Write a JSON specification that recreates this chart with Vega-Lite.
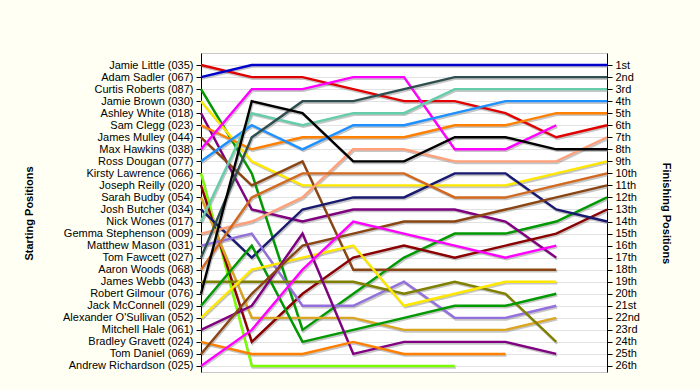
{
"$schema":"https://vega.github.io/schema/vega-lite/v6.json",
"width":406,"height":319,
"autosize":{"type":"none"},
"padding":{"left":201,"top":53,"right":93,"bottom":18},
"background":"#fffff3",
"config":{"view":{"fill":"white","stroke":"#c8c8c8"},"font":"Liberation Sans","axis":{"labelColor":"black","titleColor":"black","labelFont":"Liberation Sans","titleFont":"Liberation Sans"}},
"data":{"values":[
{"start":1,"lap":0,"pos":1},{"start":1,"lap":1,"pos":2},{"start":1,"lap":2,"pos":2},{"start":1,"lap":3,"pos":3},{"start":1,"lap":4,"pos":4},{"start":1,"lap":5,"pos":4},{"start":1,"lap":6,"pos":5},{"start":1,"lap":7,"pos":7},{"start":1,"lap":8,"pos":6},
{"start":2,"lap":0,"pos":2},{"start":2,"lap":1,"pos":1},{"start":2,"lap":2,"pos":1},{"start":2,"lap":3,"pos":1},{"start":2,"lap":4,"pos":1},{"start":2,"lap":5,"pos":1},{"start":2,"lap":6,"pos":1},{"start":2,"lap":7,"pos":1},{"start":2,"lap":8,"pos":1},
{"start":3,"lap":0,"pos":3},{"start":3,"lap":1,"pos":10},{"start":3,"lap":2,"pos":23},{"start":3,"lap":3,"pos":20},{"start":3,"lap":4,"pos":17},{"start":3,"lap":5,"pos":15},{"start":3,"lap":6,"pos":15},{"start":3,"lap":7,"pos":14},{"start":3,"lap":8,"pos":12},
{"start":4,"lap":0,"pos":4},{"start":4,"lap":1,"pos":9},{"start":4,"lap":2,"pos":11},{"start":4,"lap":3,"pos":11},{"start":4,"lap":4,"pos":11},{"start":4,"lap":5,"pos":11},{"start":4,"lap":6,"pos":11},{"start":4,"lap":7,"pos":10},{"start":4,"lap":8,"pos":9},
{"start":5,"lap":0,"pos":5},{"start":5,"lap":1,"pos":13},{"start":5,"lap":2,"pos":14},{"start":5,"lap":3,"pos":13},{"start":5,"lap":4,"pos":13},{"start":5,"lap":5,"pos":13},{"start":5,"lap":6,"pos":14},{"start":5,"lap":7,"pos":17},
{"start":6,"lap":0,"pos":6},{"start":6,"lap":1,"pos":8},{"start":6,"lap":2,"pos":7},{"start":6,"lap":3,"pos":7},{"start":6,"lap":4,"pos":7},{"start":6,"lap":5,"pos":6},{"start":6,"lap":6,"pos":6},{"start":6,"lap":7,"pos":5},{"start":6,"lap":8,"pos":5},
{"start":7,"lap":0,"pos":7},{"start":7,"lap":1,"pos":11},{"start":7,"lap":2,"pos":9},{"start":7,"lap":3,"pos":18},{"start":7,"lap":4,"pos":18},{"start":7,"lap":5,"pos":18},{"start":7,"lap":6,"pos":18},{"start":7,"lap":7,"pos":18},
{"start":8,"lap":0,"pos":8},{"start":8,"lap":1,"pos":3},{"start":8,"lap":2,"pos":3},{"start":8,"lap":3,"pos":2},{"start":8,"lap":4,"pos":2},{"start":8,"lap":5,"pos":8},{"start":8,"lap":6,"pos":8},{"start":8,"lap":7,"pos":6},
{"start":9,"lap":0,"pos":9},{"start":9,"lap":1,"pos":6},{"start":9,"lap":2,"pos":8},{"start":9,"lap":3,"pos":6},{"start":9,"lap":4,"pos":6},{"start":9,"lap":5,"pos":5},{"start":9,"lap":6,"pos":4},{"start":9,"lap":7,"pos":4},{"start":9,"lap":8,"pos":4},
{"start":10,"lap":0,"pos":10},{"start":10,"lap":1,"pos":26},{"start":10,"lap":2,"pos":26},{"start":10,"lap":3,"pos":26},{"start":10,"lap":4,"pos":26},{"start":10,"lap":5,"pos":26},
{"start":11,"lap":0,"pos":11},{"start":11,"lap":1,"pos":24},{"start":11,"lap":2,"pos":20},{"start":11,"lap":3,"pos":17},{"start":11,"lap":4,"pos":16},{"start":11,"lap":5,"pos":17},{"start":11,"lap":6,"pos":16},{"start":11,"lap":7,"pos":15},{"start":11,"lap":8,"pos":13},
{"start":12,"lap":0,"pos":12},{"start":12,"lap":1,"pos":22},{"start":12,"lap":2,"pos":22},{"start":12,"lap":3,"pos":22},{"start":12,"lap":4,"pos":23},{"start":12,"lap":5,"pos":23},{"start":12,"lap":6,"pos":23},{"start":12,"lap":7,"pos":22},
{"start":13,"lap":0,"pos":13},{"start":13,"lap":1,"pos":17},{"start":13,"lap":2,"pos":13},{"start":13,"lap":3,"pos":12},{"start":13,"lap":4,"pos":12},{"start":13,"lap":5,"pos":10},{"start":13,"lap":6,"pos":10},{"start":13,"lap":7,"pos":13},{"start":13,"lap":8,"pos":14},
{"start":14,"lap":0,"pos":14},{"start":14,"lap":1,"pos":5},{"start":14,"lap":2,"pos":6},{"start":14,"lap":3,"pos":5},{"start":14,"lap":4,"pos":5},{"start":14,"lap":5,"pos":3},{"start":14,"lap":6,"pos":3},{"start":14,"lap":7,"pos":3},{"start":14,"lap":8,"pos":3},
{"start":15,"lap":0,"pos":15},{"start":15,"lap":1,"pos":14},{"start":15,"lap":2,"pos":12},{"start":15,"lap":3,"pos":8},{"start":15,"lap":4,"pos":8},{"start":15,"lap":5,"pos":9},{"start":15,"lap":6,"pos":9},{"start":15,"lap":7,"pos":9},{"start":15,"lap":8,"pos":7},
{"start":16,"lap":0,"pos":16},{"start":16,"lap":1,"pos":15},{"start":16,"lap":2,"pos":21},{"start":16,"lap":3,"pos":21},{"start":16,"lap":4,"pos":19},{"start":16,"lap":5,"pos":22},{"start":16,"lap":6,"pos":22},{"start":16,"lap":7,"pos":21},
{"start":17,"lap":0,"pos":17},{"start":17,"lap":1,"pos":7},{"start":17,"lap":2,"pos":4},{"start":17,"lap":3,"pos":4},{"start":17,"lap":4,"pos":3},{"start":17,"lap":5,"pos":2},{"start":17,"lap":6,"pos":2},{"start":17,"lap":7,"pos":2},{"start":17,"lap":8,"pos":2},
{"start":18,"lap":0,"pos":18},{"start":18,"lap":1,"pos":12},{"start":18,"lap":2,"pos":10},{"start":18,"lap":3,"pos":10},{"start":18,"lap":4,"pos":10},{"start":18,"lap":5,"pos":12},{"start":18,"lap":6,"pos":12},{"start":18,"lap":7,"pos":11},{"start":18,"lap":8,"pos":10},
{"start":19,"lap":0,"pos":19},{"start":19,"lap":1,"pos":19},{"start":19,"lap":2,"pos":19},{"start":19,"lap":3,"pos":19},{"start":19,"lap":4,"pos":20},{"start":19,"lap":5,"pos":19},{"start":19,"lap":6,"pos":20},{"start":19,"lap":7,"pos":24},
{"start":20,"lap":0,"pos":20},{"start":20,"lap":1,"pos":4},{"start":20,"lap":2,"pos":5},{"start":20,"lap":3,"pos":9},{"start":20,"lap":4,"pos":9},{"start":20,"lap":5,"pos":7},{"start":20,"lap":6,"pos":7},{"start":20,"lap":7,"pos":8},{"start":20,"lap":8,"pos":8},
{"start":21,"lap":0,"pos":21},{"start":21,"lap":1,"pos":16},{"start":21,"lap":2,"pos":24},{"start":21,"lap":3,"pos":23},{"start":21,"lap":4,"pos":22},{"start":21,"lap":5,"pos":21},{"start":21,"lap":6,"pos":21},{"start":21,"lap":7,"pos":20},
{"start":22,"lap":0,"pos":22},{"start":22,"lap":1,"pos":18},{"start":22,"lap":2,"pos":17},{"start":22,"lap":3,"pos":16},{"start":22,"lap":4,"pos":21},{"start":22,"lap":5,"pos":20},{"start":22,"lap":6,"pos":19},{"start":22,"lap":7,"pos":19},
{"start":23,"lap":0,"pos":23},{"start":23,"lap":1,"pos":21},{"start":23,"lap":2,"pos":15},{"start":23,"lap":3,"pos":25},{"start":23,"lap":4,"pos":24},{"start":23,"lap":5,"pos":24},{"start":23,"lap":6,"pos":24},{"start":23,"lap":7,"pos":25},
{"start":24,"lap":0,"pos":24},{"start":24,"lap":1,"pos":25},{"start":24,"lap":2,"pos":25},{"start":24,"lap":3,"pos":24},{"start":24,"lap":4,"pos":25},{"start":24,"lap":5,"pos":25},{"start":24,"lap":6,"pos":25},
{"start":25,"lap":0,"pos":25},{"start":25,"lap":1,"pos":20},{"start":25,"lap":2,"pos":16},{"start":25,"lap":3,"pos":15},{"start":25,"lap":4,"pos":14},{"start":25,"lap":5,"pos":14},{"start":25,"lap":6,"pos":13},{"start":25,"lap":7,"pos":12},{"start":25,"lap":8,"pos":11},
{"start":26,"lap":0,"pos":26},{"start":26,"lap":1,"pos":23},{"start":26,"lap":2,"pos":18},{"start":26,"lap":3,"pos":14},{"start":26,"lap":4,"pos":15},{"start":26,"lap":5,"pos":16},{"start":26,"lap":6,"pos":17},{"start":26,"lap":7,"pos":16}
]},
"resolve":{"scale":{"y":"independent"}},
"layer":[
{
"encoding":{
"x":{"field":"lap","type":"quantitative","scale":{"domain":[0,8],"nice":false,"zero":false},
"axis":{"orient":"top","values":[0,1,2,3,4,5,6,7,8],"labelExpr":"datum.value == 0 ? '' : datum.label","grid":true,"gridColor":"#e2e2e2","domain":false,"ticks":false,"labelPadding":5,"labelFontSize":10,"labelAngle":0,"title":"Laps","titleFontSize":11,"titleFontWeight":"bold","titleY":-35,"titleBaseline":"middle"}},
"y":{"field":"pos","type":"quantitative","scale":{"domain":[0,26.5],"reverse":true,"nice":false,"zero":false},
"axis":{"orient":"left","values":[1,2,3,4,5,6,7,8,9,10,11,12,13,14,15,16,17,18,19,20,21,22,23,24,25,26],
"labelExpr":"[\"\",\"Jamie Little (035)\",\"Adam Sadler (067)\",\"Curtis Roberts (087)\",\"Jamie Brown (030)\",\"Ashley White (018)\",\"Sam Clegg (023)\",\"James Mulley (044)\",\"Max Hawkins (038)\",\"Ross Dougan (077)\",\"Kirsty Lawrence (066)\",\"Joseph Reilly (020)\",\"Sarah Budby (054)\",\"Josh Butcher (034)\",\"Nick Wones (017)\",\"Gemma Stephenson (009)\",\"Matthew Mason (031)\",\"Tom Fawcett (027)\",\"Aaron Woods (068)\",\"James Webb (043)\",\"Robert Gilmour (076)\",\"Jack McConnell (029)\",\"Alexander O'Sullivan (052)\",\"Mitchell Hale (061)\",\"Bradley Gravett (024)\",\"Tom Daniel (069)\",\"Andrew Richardson (025)\"][datum.value]",
"grid":true,"gridColor":"#e2e2e2","domainColor":"black","tickColor":"black","tickSize":5,"labelPadding":3,"labelFontSize":11,
"title":"Starting Positions","titleFontSize":11,"titleFontWeight":"bold","titleAngle":-90,"titleX":-172,"titleY":160,"titleBaseline":"middle","titleAlign":"center"}}
},
"layer":[
{"mark":{"type":"line","stroke":"#808080","strokeWidth":2.4,"opacity":0.45,"xOffset":1,"yOffset":1.6},"encoding":{"detail":{"field":"start","type":"nominal"}}},
{"mark":{"type":"line","strokeWidth":2.4},
"encoding":{"color":{"field":"start","type":"nominal","legend":null,
"scale":{"domain":[1,2,3,4,5,6,7,8,9,10,11,12,13,14,15,16,17,18,19,20,21,22,23,24,25,26],
"range":["#e00000","#0000cc","#009900","#ffe800","#800080","#ff8000","#8b4513","#ff00ff","#1e90ff","#7cfc00","#8b0000","#daa520","#191970","#66cdaa","#ffa07a","#9370db","#2f4f4f","#d2691e","#808000","#000000","#009900","#ffe800","#800080","#ff8000","#8b4513","#ff00ff"]}}}}
]
},
{
"mark":{"type":"point","opacity":0},
"encoding":{
"x":{"field":"lap","type":"quantitative","axis":null},
"y":{"field":"pos","type":"quantitative","scale":{"domain":[0,26.5],"reverse":true,"nice":false,"zero":false},
"axis":{"orient":"right","values":[1,2,3,4,5,6,7,8,9,10,11,12,13,14,15,16,17,18,19,20,21,22,23,24,25,26],
"labelExpr":"[\"\",\"1st\",\"2nd\",\"3rd\",\"4th\",\"5th\",\"6th\",\"7th\",\"8th\",\"9th\",\"10th\",\"11th\",\"12th\",\"13th\",\"14th\",\"15th\",\"16th\",\"17th\",\"18th\",\"19th\",\"20th\",\"21st\",\"22nd\",\"23rd\",\"24th\",\"25th\",\"26th\"][datum.value]",
"grid":false,"domainColor":"black","tickColor":"black","tickSize":5,"labelPadding":3,"labelFontSize":11,
"title":"Finishing Positions","titleFontSize":11,"titleFontWeight":"bold","titleAngle":90,"titleX":58,"titleY":160,"titleBaseline":"middle","titleAlign":"center"}}
}
}
]
}
